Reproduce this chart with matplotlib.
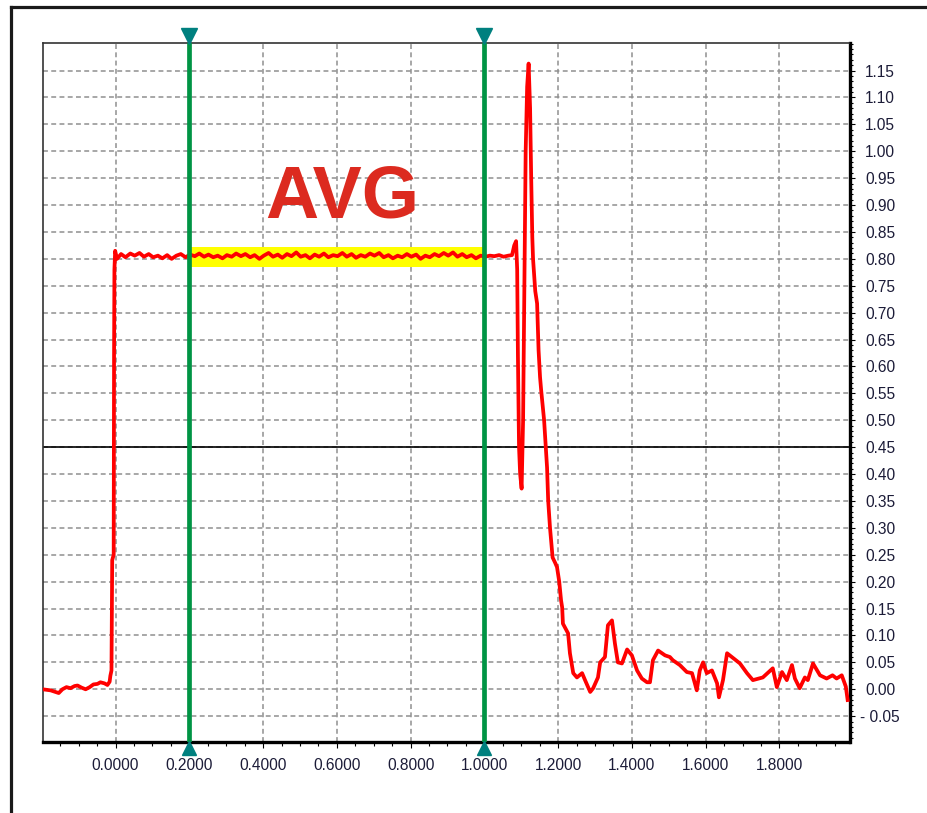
import matplotlib
matplotlib.use("Agg")
import matplotlib.pyplot as plt
from matplotlib.lines import Line2D
from matplotlib.ticker import MultipleLocator, FixedLocator, FuncFormatter
import numpy as np

plt.rcParams['font.family'] = ['Liberation Sans', 'DejaVu Sans']

# ---------------- data ----------------
pre_x = [-0.198, -0.176, -0.163, -0.154, -0.144, -0.133, -0.122, -0.111, -0.103, -0.092,
         -0.081, -0.070, -0.060, -0.049, -0.041, -0.030, -0.022, -0.016, -0.014, -0.011,
         -0.009, -0.005, -0.004, -0.003, -0.001]
pre_y = [0.000, -0.002, -0.005, -0.007, 0.000, 0.004, 0.002, 0.006, 0.007, 0.003,
         0.000, 0.004, 0.009, 0.010, 0.013, 0.011, 0.008, 0.014, 0.025, 0.035,
         0.240, 0.250, 0.620, 0.780, 0.815]

flat_x = [0.004, 0.015, 0.027, 0.040, 0.052, 0.065, 0.077, 0.090, 0.102, 0.115,
          0.127, 0.140, 0.152, 0.165, 0.177, 0.190, 0.202, 0.215, 0.227, 0.240,
          0.252, 0.265, 0.277, 0.290, 0.302, 0.315, 0.327, 0.340, 0.352, 0.365,
          0.377, 0.390, 0.402, 0.415, 0.427, 0.440, 0.452, 0.465, 0.477, 0.490,
          0.502, 0.515, 0.527, 0.540, 0.552, 0.565, 0.577, 0.590, 0.602, 0.615,
          0.627, 0.640, 0.652, 0.665, 0.677, 0.690, 0.702, 0.715, 0.727, 0.740,
          0.752, 0.765, 0.777, 0.790, 0.802, 0.815, 0.827, 0.840, 0.852, 0.865,
          0.877, 0.890, 0.902, 0.915, 0.927, 0.940, 0.952, 0.965, 0.977, 0.990,
          1.002, 1.015, 1.027, 1.040, 1.052, 1.065, 1.075]
flat_y = [0.800, 0.809, 0.803, 0.810, 0.806, 0.811, 0.804, 0.809, 0.803, 0.806,
          0.801, 0.807, 0.800, 0.806, 0.809, 0.803, 0.808, 0.805, 0.810, 0.804,
          0.808, 0.803, 0.806, 0.801, 0.807, 0.804, 0.810, 0.805, 0.809, 0.803,
          0.807, 0.800, 0.806, 0.811, 0.804, 0.808, 0.802, 0.809, 0.805, 0.812,
          0.804, 0.807, 0.801, 0.808, 0.804, 0.810, 0.803, 0.807, 0.805, 0.811,
          0.804, 0.809, 0.802, 0.807, 0.804, 0.810, 0.806, 0.811, 0.803, 0.807,
          0.801, 0.806, 0.803, 0.809, 0.804, 0.808, 0.800, 0.806, 0.803, 0.809,
          0.805, 0.811, 0.806, 0.812, 0.804, 0.809, 0.803, 0.807, 0.801, 0.806,
          0.804, 0.806, 0.805, 0.807, 0.804, 0.806, 0.807]

post_x = [1.081, 1.086, 1.089, 1.091, 1.094, 1.097, 1.101, 1.105, 1.108, 1.112,
          1.116, 1.120, 1.124, 1.127, 1.130, 1.132, 1.138, 1.143, 1.147, 1.151,
          1.154, 1.162, 1.165, 1.170, 1.173, 1.178, 1.181, 1.185, 1.192, 1.197,
          1.203, 1.208, 1.211, 1.213, 1.227, 1.232, 1.241, 1.251, 1.265, 1.273,
          1.287, 1.295, 1.308, 1.314, 1.327, 1.335, 1.346, 1.354, 1.362, 1.373,
          1.387, 1.400, 1.414, 1.427, 1.441, 1.449, 1.457, 1.471, 1.490, 1.503,
          1.511, 1.530, 1.549, 1.563, 1.576, 1.584, 1.593, 1.603, 1.617, 1.631,
          1.636, 1.647, 1.658, 1.671, 1.693, 1.712, 1.728, 1.755, 1.782, 1.793,
          1.807, 1.820, 1.834, 1.842, 1.855, 1.869, 1.877, 1.891, 1.910, 1.928,
          1.944, 1.955, 1.969, 1.980, 1.985]
post_y = [0.825, 0.833, 0.780, 0.620, 0.450, 0.400, 0.373, 0.500, 0.720, 1.000,
          1.120, 1.163, 1.080, 0.950, 0.840, 0.800, 0.740, 0.717, 0.630, 0.580,
          0.556, 0.500, 0.468, 0.412, 0.351, 0.300, 0.277, 0.245, 0.235, 0.227,
          0.200, 0.165, 0.152, 0.122, 0.104, 0.067, 0.030, 0.022, 0.030, 0.017,
          -0.005, 0.002, 0.022, 0.050, 0.060, 0.119, 0.128, 0.085, 0.050, 0.048,
          0.074, 0.063, 0.035, 0.020, 0.013, 0.013, 0.054, 0.072, 0.063, 0.060,
          0.054, 0.045, 0.032, 0.030, -0.002, 0.035, 0.050, 0.030, 0.035, 0.011,
          -0.015, 0.017, 0.067, 0.060, 0.048, 0.030, 0.017, 0.022, 0.039, 0.004,
          0.032, 0.017, 0.045, 0.020, 0.002, 0.022, 0.017, 0.048, 0.026, 0.020,
          0.026, 0.020, 0.026, 0.005, -0.020]

signal_x = pre_x + flat_x + post_x
signal_y = pre_y + flat_y + post_y

cursor_x = [0.2, 1.0]
avg_band = (0.785, 0.822)
threshold = 0.45
x_ticks = [0.0, 0.2, 0.4, 0.6, 0.8, 1.0, 1.2, 1.4, 1.6, 1.8]
y_ticks = [-0.05, 0.0, 0.05, 0.10, 0.15, 0.20, 0.25, 0.30, 0.35, 0.40, 0.45, 0.50,
           0.55, 0.60, 0.65, 0.70, 0.75, 0.80, 0.85, 0.90, 0.95, 1.00, 1.05, 1.10, 1.15]
label_text = "AVG"
label_pos = (0.615, 0.913)

# ---------------- figure ----------------
W, H = 927, 813
fig = plt.figure(figsize=(W / 100, H / 100), dpi=100)
fig.patch.set_facecolor('white')

# outer frame: top and left edges only (the rest runs off the picture)
fx, fy = 10.5 / W, 1 - 7.5 / H
fig.add_artist(Line2D([fx, 1.05], [fy, fy], transform=fig.transFigure,
                      color='#1a1a1a', linewidth=2.3, solid_capstyle='projecting'))
fig.add_artist(Line2D([fx, fx], [fy, -0.05], transform=fig.transFigure,
                      color='#1a1a1a', linewidth=2.3, solid_capstyle='projecting'))

L, R, T, B = 42.5, 849.5, 43.3, 742.0
ax = fig.add_axes([L / W, 1 - B / H, (R - L) / W, (B - T) / H])
ax.set_xlim(-0.198, 1.990)
ax.set_ylim(-0.098, 1.2007)

ax.xaxis.set_major_locator(FixedLocator(x_ticks))
ax.xaxis.set_minor_locator(MultipleLocator(0.05))
ax.yaxis.set_major_locator(FixedLocator(y_ticks))
ax.yaxis.set_minor_locator(MultipleLocator(0.01))
ax.xaxis.set_major_formatter(FuncFormatter(lambda v, p: f"{v:.4f}"))

def yfmt(v, p):
    if v < -1e-9:
        return f"- {abs(v):.2f}"
    return f"{abs(v):.2f}"
ax.yaxis.set_major_formatter(FuncFormatter(yfmt))

ax.yaxis.tick_right()
ax.xaxis.tick_bottom()
ax.tick_params(axis='x', which='major', direction='out', length=4.3, width=0.8,
               color='black', labelsize=11.2, labelcolor='#1c1c38', pad=7)
ax.tick_params(axis='x', which='minor', direction='out', length=2.9, width=0.8, color='black')
ax.tick_params(axis='y', which='major', direction='out', length=3.6, width=0.8,
               color='black', labelsize=11.2, labelcolor='#1c1c38', pad=18.4)
ax.tick_params(axis='y', which='minor', direction='out', length=2.2, width=0.8, color='black')
for lbl in ax.get_yticklabels():
    lbl.set_horizontalalignment('center')

for s in ['left', 'top']:
    ax.spines[s].set_color('#333333')
    ax.spines[s].set_linewidth(1.2)
for s in ['right', 'bottom']:
    ax.spines[s].set_color('black')
    ax.spines[s].set_linewidth(2.4)

ax.set_axisbelow(True)
ax.grid(True, which='major', color='#8f8f8f', linewidth=1.1, linestyle=(0, (3.2, 2.2)))

# threshold line
ax.axhline(threshold, color='black', linewidth=1.2, zorder=2)

# yellow AVG band
ax.fill_between(cursor_x, [avg_band[0]] * 2, [avg_band[1]] * 2, color='#ffff00',
                linewidth=0, zorder=3)

# signal
ax.plot(signal_x, signal_y, color='#ff0000', linewidth=2.7, zorder=4,
        solid_joinstyle='round')

# cursors
for cx in cursor_x:
    ax.axvline(cx, color='#009444', linewidth=3.4, zorder=5)
    ax.plot([cx], [1.0104], marker='v', markersize=11, color='#00807f',
            transform=ax.get_xaxis_transform(), clip_on=False, zorder=6)
    ax.plot([cx], [-0.0079], marker='^', markersize=10, color='#00807f',
            transform=ax.get_xaxis_transform(), clip_on=False, zorder=6)

# AVG label
ax.text(label_pos[0], label_pos[1], label_text, color='#dc2a1f', fontsize=53,
        fontweight='bold', ha='center', va='center', zorder=7)

fig.savefig('out.png', dpi=100, facecolor='white')
